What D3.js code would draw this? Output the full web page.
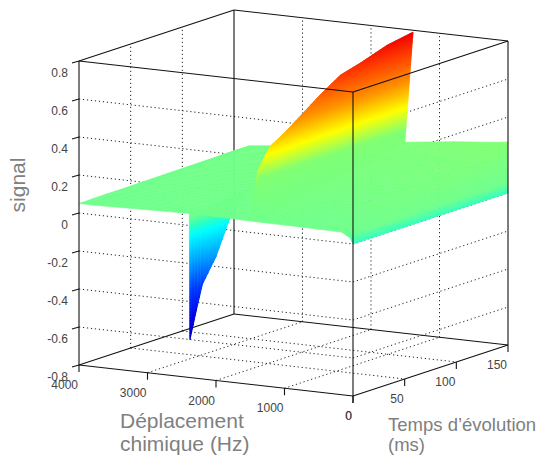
<!DOCTYPE html>
<meta charset="utf-8">
<style>
html, body { margin: 0; background: #fff; }
text { font-family: "Liberation Sans", Arial, sans-serif; }
.tick text { font-size: 12px; fill: #444; }
.title { font-size: 21px; fill: #808080; }
.title.small { font-size: 18.5px; }
.grid { fill: none; stroke: #222; stroke-width: 1px; stroke-dasharray: 1.2 2.8; }
.box { fill: none; stroke: #111; stroke-width: 1.1px; }
</style>
<body>
<script src="https://cdn.jsdelivr.net/npm/d3@7"></script>
<script>
// chemical shift columns, ordered as the sheets are stitched (1503/1387 is the leaning ridge)
var hzValues = [0, 10, 40, 170, 800, 1503, 1387, 1520, 2370, 2380, 2390, 3000, 3766, 4000];
var timeValues = [0, 6, 12, 25, 40, 60, 80, 100, 125, 150];
// one row per evolution time, one value per hzValues entry
var signalRows = [
  [0, .005, .03, .056, .058, .06, .33, .06, .063, -.6, .063, .058, .05, .05],
  [0, .016, .035, .06, .062, .15, .384, .062, .065, -.46, .065, .06, .052, .05],
  [0, .026, .045, .07, .068, .2, .437, .066, .068, -.33, .068, .062, .054, .051],
  [0, .05, .06, .09, .08, .2, .48, .075, .072, -.21, .072, .066, .058, .052],
  [0, .075, .085, .115, .092, .2, .539, .09, .08, -.01, .08, .072, .062, .052],
  [0, .11, .118, .137, .12, .2, .62, .11, .095, .095, .095, .082, .068, .053],
  [0, .145, .15, .158, .15, .2, .69, .13, .11, .11, .11, .09, .074, .054],
  [0, .18, .184, .18, .17, .2, .72, .15, .125, .125, .125, .1, .08, .055],
  [0, .224, .225, .22, .2, .203, .766, .18, .14, .14, .14, .112, .087, .056],
  [0, .268, .266, .26, .237, .206, .79, .205, .16, .16, .159, .126, .095, .058]
];
var hzTicks = [4000, 3000, 2000, 1000, 0];
var timeTicks = [0, 50, 100, 150];
var signalTicks = [0.8, 0.6, 0.4, 0.2, 0, -0.2, -0.4, -0.6, -0.8];
var colorStops = [-.6, -.5, -.34, -.18, -.05, 0, .05, .27, .39, .52, .68, .79];
var colorValues = ["#0000aa", "#0000e6", "#003cff", "#00aaff", "#00ffff", "#32ffbe", "#6eff8c", "#82ff73", "#ffff00", "#ff9600", "#ff3c00", "#f00000"];

var hzX = d3.scaleLinear().domain([0, 4000]).range([0, -274]);
var hzY = d3.scaleLinear().domain([0, 4000]).range([0, -31]);
var timeX = d3.scaleLinear().domain([0, 150]).range([0, 155]);
var timeY = d3.scaleLinear().domain([0, 150]).range([0, -51]);
var signalY = d3.scaleLinear().domain([-0.8, 0.8]).range([0, -304]);
var color = d3.scaleLinear().domain(colorStops).range(colorValues).clamp(true);

// oblique projection of the axes box, origin is the hz=0, t=0, signal=-0.8 corner
function project(hz, t, s) {
  return [353 + hzX(hz) + timeX(t), 396 + hzY(hz) + timeY(t) + signalY(s)];
}

var svg = d3.select("body").append("svg").attr("width", 540).attr("height", 456);
var line = d3.line();

function segment(parent, cls, a, b) {
  parent.append("path").attr("class", cls).attr("d", line([project(a[0], a[1], a[2]), project(b[0], b[1], b[2])]));
}

// grid
var grid = svg.append("g");
signalTicks.slice(1, -1).forEach(function(s) {
  segment(grid, "grid", [4000, 0, s], [0, 0, s]);
  segment(grid, "grid", [0, 0, s], [0, 150, s]);
});
[50, 100].forEach(function(t) {
  segment(grid, "grid", [4000, t, -0.8], [4000, t, 0.8]);
  segment(grid, "grid", [4000, t, -0.8], [0, t, -0.8]);
});
[1000, 2000, 3000].forEach(function(hz) {
  segment(grid, "grid", [hz, 150, -0.8], [hz, 150, 0.8]);
  segment(grid, "grid", [hz, 0, -0.8], [hz, 150, -0.8]);
});

// edges hidden by the surface
var back = svg.append("g");
segment(back, "box", [4000, 150, -0.8], [4000, 150, 0.8]);
segment(back, "box", [4000, 150, 0.8], [0, 150, 0.8]);
segment(back, "box", [4000, 0, -0.8], [4000, 150, -0.8]);
segment(back, "box", [4000, 150, -0.8], [0, 150, -0.8]);

// surface, painted far to near with interpolated shading inside each cell
var surface = svg.append("g");
function shadeCell(i, j) {
  var c = [[i, j], [i - 1, j], [i - 1, j - 1], [i, j - 1]].map(function(k) {
    return { hz: hzValues[k[0]], t: timeValues[k[1]], s: signalRows[k[1]][k[0]] };
  });
  var spread = Math.max(Math.abs(c[0].s - c[1].s), Math.abs(c[3].s - c[2].s));
  var nHz = Math.max(1, Math.ceil(spread * 190 / 3));
  var nT = Math.max(2, Math.ceil((timeValues[j] - timeValues[j - 1]) / 3));
  function at(u, v) {
    var top = { hz: c[0].hz + (c[1].hz - c[0].hz) * u, s: c[0].s + (c[1].s - c[0].s) * u };
    var bot = { hz: c[3].hz + (c[2].hz - c[3].hz) * u, s: c[3].s + (c[2].s - c[3].s) * u };
    return { hz: top.hz + (bot.hz - top.hz) * v, t: c[0].t + (c[3].t - c[0].t) * v, s: top.s + (bot.s - top.s) * v };
  }
  for (var a = 0; a < nHz; a++) {
    for (var b = 0; b < nT; b++) {
      var q = [at(a / nHz, b / nT), at((a + 1) / nHz, b / nT), at((a + 1) / nHz, (b + 1) / nT), at(a / nHz, (b + 1) / nT)];
      var mean = d3.mean(q, function(p) { return p.s; });
      surface.append("path")
        .attr("d", line(q.map(function(p) { return project(p.hz, p.t, p.s); })) + "Z")
        .attr("fill", color(mean))
        .attr("stroke", color(mean))
        .attr("stroke-width", 0.6);
    }
  }
}
for (var i = hzValues.length - 1; i > 0; i--) {
  for (var j = timeValues.length - 1; j > 0; j--) {
    shadeCell(i, j);
  }
}

// front edges
var front = svg.append("g");
segment(front, "box", [4000, 0, -0.8], [4000, 0, 0.8]);
segment(front, "box", [4000, 0, 0.8], [0, 0, 0.8]);
segment(front, "box", [0, 0, 0.8], [0, 0, -0.8]);
segment(front, "box", [0, 0, 0.8], [0, 150, 0.8]);
segment(front, "box", [0, 150, 0.8], [0, 150, -0.8]);
segment(front, "box", [4000, 0, 0.8], [4000, 150, 0.8]);
segment(front, "box", [4000, 0, -0.8], [0, 0, -0.8]);
segment(front, "box", [0, 0, -0.8], [0, 150, -0.8]);

// ticks and labels
var ticks = svg.append("g").attr("class", "tick");
function addTick(x, y, dx, dy, lx, ly, label) {
  ticks.append("path").attr("class", "box").attr("d", line([[x, y], [x + dx, y + dy]]));
  ticks.append("text").attr("x", x + lx).attr("y", y + ly).attr("text-anchor", "end").attr("dy", "0.35em").text(label);
}
signalTicks.forEach(function(s) {
  var p = project(4000, 0, s);
  addTick(p[0], p[1], -7, 2, -11, 12, s);
});
hzTicks.forEach(function(hz) {
  var p = project(hz, 0, -0.8);
  addTick(p[0], p[1], 0, 7, -1, 20, hz);
});
timeTicks.forEach(function(t) {
  var p = project(0, t, -0.8);
  addTick(p[0], p[1], 0, 7, -1, 20, t);
});

// axis titles
svg.append("text").attr("class", "title").attr("transform", "translate(25,185) rotate(-90)").attr("text-anchor", "middle").text("signal");
svg.append("text").attr("class", "title").attr("x", 120).attr("y", 428).text("Déplacement");
svg.append("text").attr("class", "title").attr("x", 120).attr("y", 451).text("chimique (Hz)");
svg.append("text").attr("class", "title small").attr("x", 388).attr("y", 431).text("Temps d’évolution");
svg.append("text").attr("class", "title small").attr("x", 388).attr("y", 451).text("(ms)");
</script>
</body>
